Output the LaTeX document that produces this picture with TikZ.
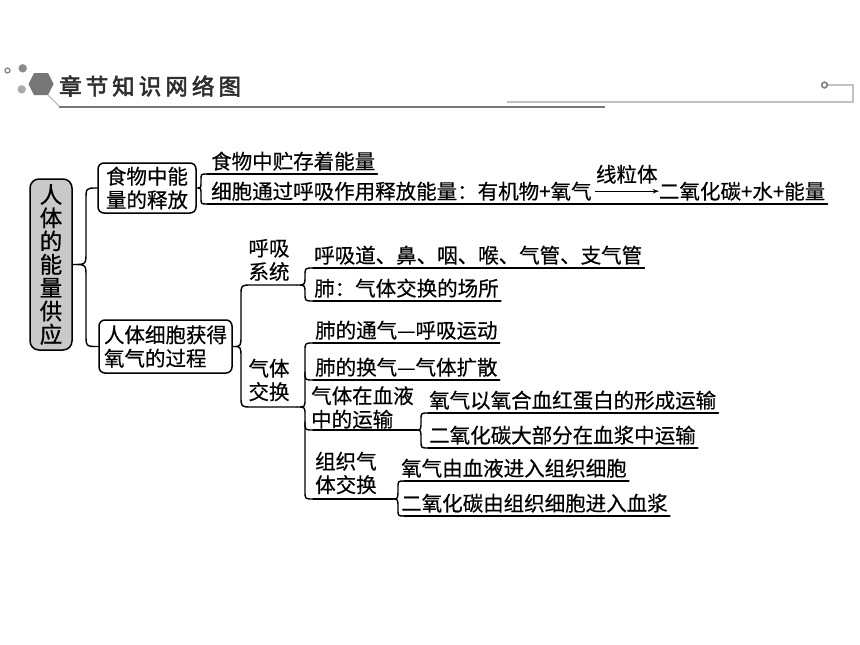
\documentclass[tikz,border=0pt]{standalone}
\usepackage{fontspec}
\setmainfont{Noto Sans CJK SC}[FakeBold=0.4]
\newfontfamily\titlefont[FakeBold=2.5,LetterSpace=18]{Noto Sans CJK SC}
\newfontfamily\rootfont[FakeBold=0.8]{Noto Sans CJK SC}
\usetikzlibrary{arrows.meta}
\definecolor{rootgray}{HTML}{C9C9C9}
\definecolor{hdrdark}{HTML}{777777}
\definecolor{hdrmid}{HTML}{8A8A8A}
\definecolor{hdrlight}{HTML}{ABABAB}
\definecolor{hdrline}{HTML}{C2C2C2}
\definecolor{titlecol}{HTML}{2E2E2E}
\begin{document}
\begin{tikzpicture}[x=1pt,y=-1pt,
  br/.style={line width=1.4pt, line cap=round, line join=round},
  box/.style={draw, line width=1.5pt, rounded corners=6pt, inner sep=0pt},
  itm/.style={anchor=base west, inner sep=0pt, font=\fontsize{20.5}{23}\selectfont},
  lbl/.style={inner sep=0pt, font=\fontsize{20.5}{23.5}\selectfont},
]
\useasboundingbox (0,0) rectangle (860,645);
\fill[white] (0,0) rectangle (860,645);

% ---------- header ----------
\draw[hdrmid, line width=1.3pt] (7.5,70.5) circle (2.5pt);
\fill[hdrmid] (22.7,68.3) circle (4.2pt);
\fill[hdrlight] (21.7,89.3) circle (4.2pt);
\fill[hdrdark] (28.5,84) -- (34,73) -- (48,73) -- (53.5,84) -- (48,95) -- (34,95) -- cycle;
\draw[hdrlight, line width=1pt] (48,95) -- (60,107);
\draw[hdrdark, line width=1.8pt] (59,107) -- (605,107);
\draw[hdrline, line width=1.5pt] (507,102) -- (853,102) -- (853,85) -- (828,85);
\draw[hdrmid, line width=1.8pt, fill=white] (824.5,85) circle (2.8pt);
\node[anchor=west, inner sep=0pt, text=titlecol, font=\titlefont\fontsize{22.5}{22.5}\selectfont] (title) at (59,86) {章节知识网络图};

% ---------- boxes ----------
\node[box, rounded corners=9pt, fill=rootgray, minimum width=42, minimum height=171, align=center,
      font=\rootfont\fontsize{22.5}{23.3}\selectfont] (root) at (51,264.5) {人\\体\\的\\能\\量\\供\\应};
\node[box, lbl, minimum width=98, minimum height=50, align=center] (b1) at (147,188) {食物中能\\量的释放};
\node[box, lbl, minimum width=133, minimum height=53, align=left, text width=123] (b2) at (165.5,346.5) {人体细胞获得\\氧气的过程};

% ---------- labels ----------
\node[lbl, align=center] (l1) at (269,260) {呼吸\\系统};
\node[lbl, align=center] (l2) at (269,380) {气体\\交换};
\node[lbl, align=left, anchor=west] (l3) at (311,407.5) {气体在血液\\中的运输};
\node[lbl, align=left, anchor=west] (l4) at (315,473) {组织气\\体交换};

% ---------- items ----------
\node[itm] (t1) at (211,169) {食物中贮存着能量};
\node[itm] (t2a) at (211,199) {细胞通过呼吸作用释放能量：有机物+氧气};
\draw[line width=1pt, -{Stealth[length=6pt,width=4.5pt]}] ([xshift=3pt]t2a.east) -- ++(64,0) coordinate (aend)
  node[midway, above=7pt, lbl] (mito) {线粒体};
\node[itm, anchor=west] (t2b) at (aend) {二氧化碳+水+能量};
\node[itm] (t3) at (314,263) {呼吸道、鼻、咽、喉、气管、支气管};
\node[itm] (t4) at (314,296) {肺：气体交换的场所};
\node[itm] (t5) at (315,338) {肺的通气—呼吸运动};
\node[itm] (t6) at (315,375) {肺的换气—气体扩散};
\node[itm] (t7) at (429,408) {氧气以氧合血红蛋白的形成运输};
\node[itm] (t8) at (429,443) {二氧化碳大部分在血浆中运输};
\node[itm] (t9) at (401,476) {氧气由血液进入组织细胞};
\node[itm] (t10) at (401,511) {二氧化碳由组织细胞进入血浆};

% ---------- coordinates ----------
\coordinate (u1) at (207,174);
\coordinate (u2) at (207,204);
\coordinate (u3) at (313,268);
\coordinate (u4) at (313,301);
\coordinate (u5) at (313,343);
\coordinate (u6) at (313,380);
\coordinate (u7) at (428,413);
\coordinate (u8) at (428,448);
\coordinate (u9) at (404,481);
\coordinate (u10) at (404,516);
\coordinate (h1) at (297,285);
\coordinate (h2) at (297,407);
\coordinate (h3) at (417,430);
\coordinate (h4) at (393,499);
\coordinate (g3) at (313,430);
\coordinate (g4) at (313,499);

% ---------- underlines ----------
\draw[br] (u1) -- (u1 -| t1.east) -- ++(2,0);
\draw[br] (u2) -- (u2 -| t2b.east) -- ++(2,0);
\draw[br] (u3) -- (u3 -| t3.east) -- ++(2,0);
\draw[br] (u4) -- (u4 -| t4.east) -- ++(2,0);
\draw[br] (u5) -- (u5 -| t5.east) -- ++(2,0);
\draw[br] (u6) -- (u6 -| t6.east) -- ++(2,0);
\draw[br] (u7) -- (u7 -| t7.east) -- ++(2,0);
\draw[br] (u8) -- (u8 -| t8.east) -- ++(2,0);
\draw[br] (u9) -- (u9 -| t9.east) -- ++(2,0);
\draw[br] (u10) -- (u10 -| t10.east) -- ++(2,0);
\draw[br] (g3) -- (h3);
\draw[br] (g4) -- (h4);

% ---------- braces ----------
% root brace
\draw[br] (b1.west) .. controls (86,188) .. (86,200) -- (86,252)
  .. controls (86,264.5) .. (root.east) .. controls (86,264.5) .. (86,277) -- (86,334)
  .. controls (86,346.5) .. (b2.west);
% box1 brace
\draw[br] (u1) .. controls (201,174) .. (201,180) -- (201,182)
  .. controls (201,188) .. (b1.east) .. controls (201,188) .. (201,194) -- (201,198)
  .. controls (201,204) .. (u2);
% box2 brace
\draw[br] (h1) -- (252,285) .. controls (241,285) .. (241,296) -- (241,335)
  .. controls (241,346.5) .. (b2.east) .. controls (241,346.5) .. (241,358) -- (241,396)
  .. controls (241,407) .. (252,407) -- (h2);
% respiratory system brace
\draw[br] (u3) .. controls (305,268) .. (305,276) .. controls (305,285) .. (h1)
  .. controls (305,285) .. (305,293) .. controls (305,301) .. (u4);
% gas exchange brace
\draw[br] (u5) .. controls (305,343) .. (305,351) -- (305,399) .. controls (305,407) .. (h2)
  .. controls (305,407) .. (305,415) -- (305,491) .. controls (305,499) .. (g4);
\draw[br] (305,372) .. controls (305,380) .. (u6);
\draw[br] (305,422) .. controls (305,430) .. (g3);
% blood transport brace
\draw[br] (u7) .. controls (421,413) .. (421,420) .. controls (421,430) .. (h3)
  .. controls (421,430) .. (421,440) .. controls (421,448) .. (u8);
% tissue exchange brace
\draw[br] (u9) .. controls (398,481) .. (398,488) .. controls (398,499) .. (h4)
  .. controls (398,499) .. (398,509) .. controls (398,516) .. (u10);
\end{tikzpicture}
\end{document}
